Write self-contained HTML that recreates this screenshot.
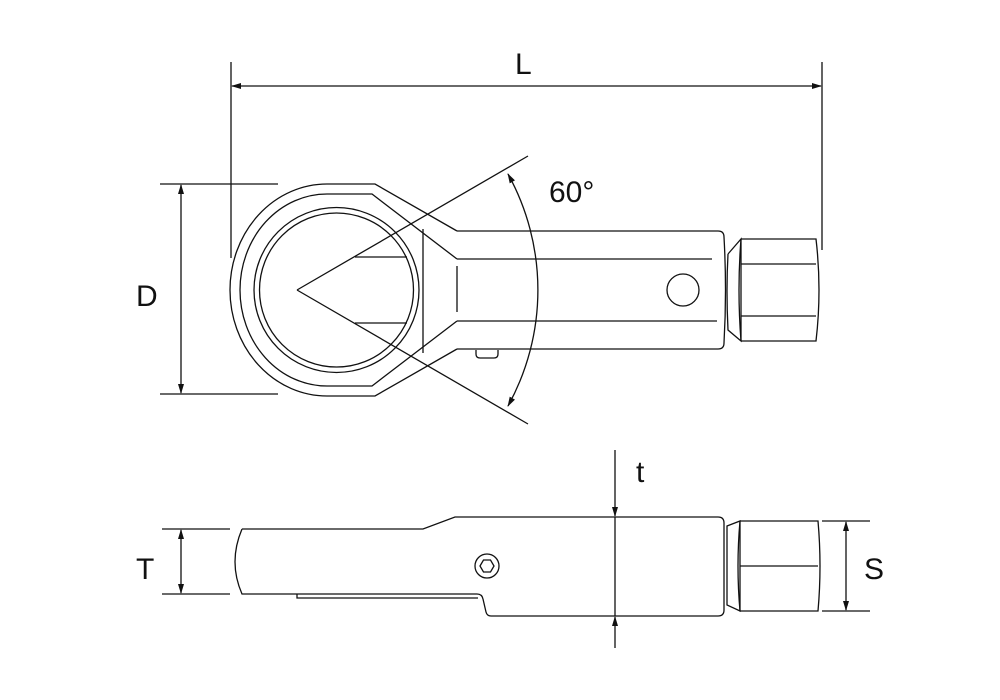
<!DOCTYPE html><html><head><style>body{margin:0;background:#fff}svg{display:block}text{font-family:"Liberation Sans",sans-serif;font-size:30px;fill:#111}</style></head><body>
<svg width="1000" height="700" viewBox="0 0 1000 700" xmlns="http://www.w3.org/2000/svg">
<defs><marker id="a" markerWidth="10" markerHeight="8" refX="9" refY="4" orient="auto-start-reverse" markerUnits="userSpaceOnUse"><path d="M0,1 L10,4 L0,7 Z" fill="#111"/></marker></defs>
<g fill="none" stroke="#111" stroke-width="1.3">
<line x1="231" y1="62" x2="231" y2="258"/><line x1="822" y1="62" x2="822" y2="250"/>
<line x1="232" y1="86" x2="821" y2="86" marker-start="url(#a)" marker-end="url(#a)"/>
<line x1="160" y1="184" x2="278" y2="184"/><line x1="160" y1="394" x2="278" y2="394"/>
<line x1="181" y1="185" x2="181" y2="393" marker-start="url(#a)" marker-end="url(#a)"/>
<path d="M457,231 L375,184 L327,184 A97,106 0 0 0 327,396 L375,396 L457,349"/>
<path d="M457,259 L372,194 L327,194 A87,96 0 0 0 327,386 L372,386 L457,321"/>
<circle cx="336.5" cy="290" r="82.5"/><circle cx="336.5" cy="290" r="77"/>
<line x1="423" y1="229" x2="423" y2="353"/><line x1="457" y1="266" x2="457" y2="312"/>
<line x1="355" y1="257" x2="407" y2="257"/><line x1="355" y1="323" x2="407" y2="323"/>
<path d="M457,231 L718,231 Q724,231 724,237 Q727,290 724,343 Q724,349 718,349 L457,349"/>
<line x1="457" y1="259" x2="712" y2="259"/><line x1="457" y1="321" x2="717" y2="321"/>
<circle cx="683" cy="290" r="16"/>
<path d="M476,350 L476,354 Q476,358 480,358 L494,358 Q498,358 498,354 L498,350"/>
<path d="M728,254 L741,239 L741,341 L728,330 Q726,290 728,254"/>
<path d="M741,239 L816,239 Q822,290 816,341 L741,341"/>
<path d="M741,239 Q737,290 741,341"/>
<line x1="741" y1="264" x2="816" y2="264"/><line x1="741" y1="316" x2="816" y2="316"/>
<line x1="297" y1="290" x2="528" y2="156"/><line x1="297" y1="290" x2="528" y2="424"/>
<path d="M508,174 A240,240 0 0 1 508,406" marker-start="url(#a)" marker-end="url(#a)"/>
<path d="M242,529 L423,529 L455,517 L718,517 Q724,517 724,523 L724,610 Q724,616 718,616 L491,616 Q487,616 486,612 L483,599 Q482,594 477,594 L242,594 Q228,562 242,529"/>
<path d="M297,594 L297,598 L478,598"/>
<circle cx="487" cy="566" r="12"/><path d="M480,566 L483.5,560 L490.5,560 L494,566 L490.5,572 L483.5,572 Z"/>
<path d="M727,526 L740,521 L740,611 L727,605 Z"/>
<path d="M740,521 L818,521 Q822,566 818,611 L740,611 Q736,566 740,521"/>
<line x1="740" y1="566" x2="818" y2="566"/>
<line x1="615" y1="450" x2="615" y2="516" marker-end="url(#a)"/>
<line x1="615" y1="648" x2="615" y2="617" marker-end="url(#a)"/>
<line x1="615" y1="517" x2="615" y2="616"/>
<line x1="822" y1="521" x2="870" y2="521"/><line x1="822" y1="611" x2="870" y2="611"/>
<line x1="846" y1="522" x2="846" y2="610" marker-start="url(#a)" marker-end="url(#a)"/>
<line x1="162" y1="529" x2="230" y2="529"/><line x1="162" y1="594" x2="230" y2="594"/>
<line x1="181" y1="530" x2="181" y2="593" marker-start="url(#a)" marker-end="url(#a)"/>
</g>
<text x="515" y="74">L</text>
<text x="136" y="306">D</text>
<text x="549" y="202">60°</text>
<text x="636" y="482">t</text>
<text x="136" y="579">T</text>
<text x="864" y="579">S</text>
</svg></body></html>
